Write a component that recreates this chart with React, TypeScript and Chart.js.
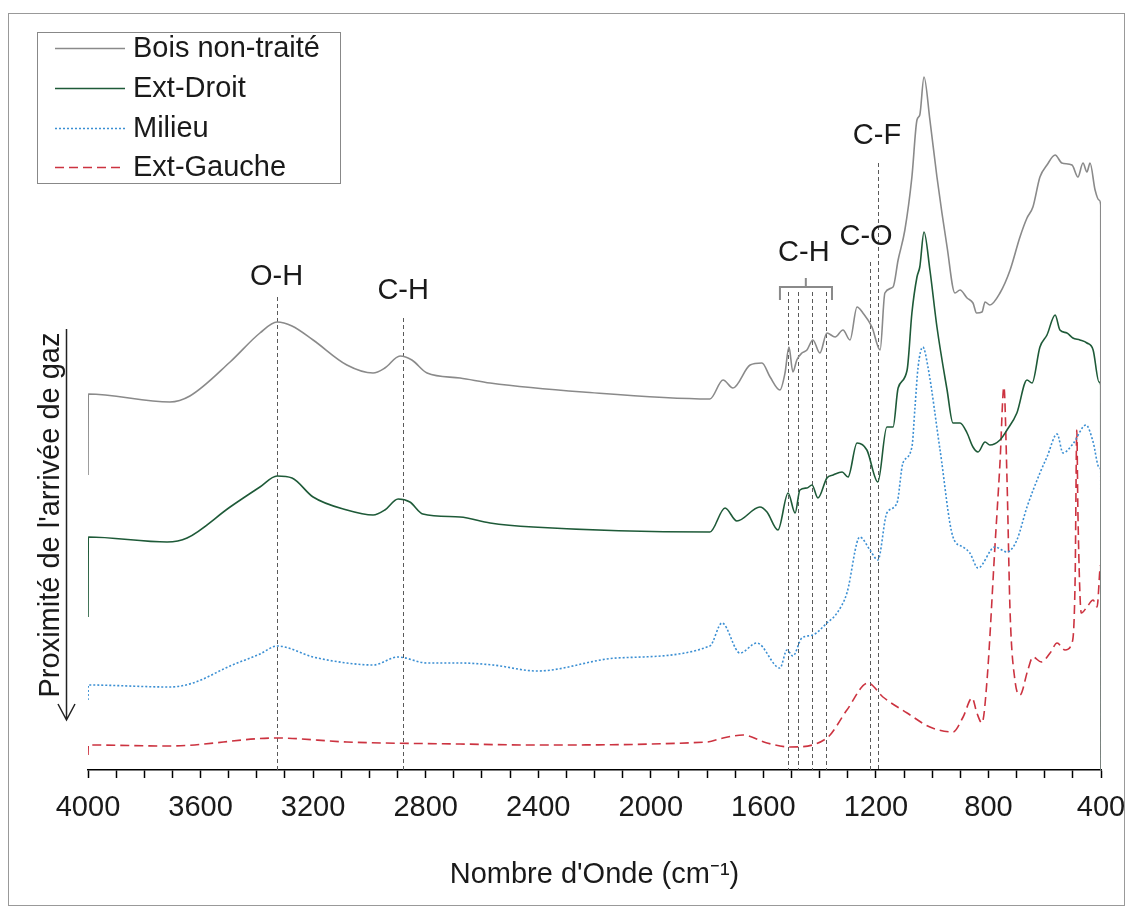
import React, { useEffect, useRef } from "react";
import { Chart, registerables } from "chart.js";

Chart.register(...registerables);

const FONT = "'Liberation Sans', Arial, sans-serif";
const FS = 29;

// Tick labels shown on the wavenumber axis (minor ticks every 100 cm-1)
const TICK_LABELS = ["4000", "3600", "3200", "2800", "2400", "2000", "1600", "1200", "800", "400"];

// Series: wavenumber (cm-1) and offset absorbance (arbitrary units)
const boisWave = [4000, 3999, 3709, 3638, 3495, 3389, 3328, 3275, 3200, 3080, 2987, 2945, 2891, 2849, 2795, 2678, 2571, 2241, 1790, 1743, 1708, 1647, 1605, 1576, 1541, 1523, 1509, 1495, 1481, 1463, 1445, 1424, 1399, 1374, 1345, 1317, 1292, 1267, 1246, 1214, 1185, 1168, 1139, 1121, 1097, 1072, 1054, 1044, 1029, 1008, 983, 947, 919, 901, 876, 855, 842, 823, 812, 795, 759, 723, 688, 663, 642, 617, 592, 563, 539, 503, 482, 464, 450, 439, 421, 407, 401, 400];
const boisAbs = [295, 376, 368, 374, 408, 437, 448, 444, 430, 405, 397, 402, 414, 410, 397, 392, 387, 378, 371, 390, 382, 405, 407, 393, 380, 397, 423, 398, 410, 417, 420, 430, 417, 437, 433, 440, 430, 463, 457, 443, 420, 477, 483, 510, 540, 593, 650, 655, 693, 650, 593, 523, 477, 480, 472, 467, 457, 458, 468, 465, 477, 500, 533, 552, 563, 593, 605, 615, 607, 605, 593, 607, 598, 607, 580, 570, 565, 0];

const droitWave = [4000, 3999, 3719, 3648, 3495, 3389, 3328, 3275, 3200, 3080, 2987, 2945, 2898, 2856, 2810, 2678, 2571, 2418, 1790, 1736, 1694, 1612, 1587, 1548, 1512, 1487, 1470, 1445, 1427, 1406, 1374, 1352, 1320, 1299, 1267, 1232, 1193, 1161, 1139, 1121, 1089, 1072, 1054, 1044, 1029, 1008, 983, 947, 926, 901, 876, 855, 837, 812, 795, 759, 734, 699, 663, 645, 617, 592, 563, 546, 521, 500, 475, 450, 428, 407, 401, 400];
const droitAbs = [153, 233, 228, 232, 263, 283, 294, 292, 273, 260, 255, 260, 271, 268, 256, 253, 247, 243, 238, 262, 249, 263, 258, 240, 277, 257, 280, 282, 285, 272, 292, 295, 298, 293, 327, 320, 288, 343, 343, 382, 400, 457, 493, 503, 538, 500, 443, 380, 347, 347, 337, 323, 318, 328, 325, 330, 340, 357, 390, 387, 423, 435, 455, 440, 437, 432, 430, 427, 420, 388, 385, 0];

const milieuWave = [4000, 3999, 3709, 3627, 3495, 3389, 3328, 3200, 3080, 2987, 2898, 2795, 2678, 2561, 2404, 2120, 1790, 1747, 1683, 1623, 1541, 1516, 1495, 1463, 1424, 1374, 1338, 1303, 1257, 1221, 1193, 1161, 1125, 1104, 1072, 1061, 1050, 1033, 1015, 972, 926, 890, 866, 837, 777, 734, 699, 663, 617, 592, 556, 535, 500, 453, 428, 407, 401, 400];
const milieuAbs = [70, 85, 83, 87, 104, 116, 124, 113, 107, 105, 113, 107, 107, 105, 99, 112, 124, 147, 117, 127, 102, 120, 114, 132, 135, 147, 157, 177, 233, 220, 210, 257, 267, 307, 323, 363, 403, 423, 403, 320, 233, 223, 217, 202, 223, 218, 230, 263, 297, 313, 336, 317, 326, 345, 328, 303, 300, 0];

const gaucheWave = [4000, 3999, 3709, 3328, 3080, 2678, 2418, 1800, 1743, 1672, 1587, 1505, 1374, 1303, 1228, 1175, 1089, 1008, 926, 890, 858, 841, 823, 805, 777, 759, 745, 734, 723, 706, 688, 660, 642, 612, 581, 556, 528, 503, 492, 486, 482, 470, 450, 428, 414, 403, 401, 400];
const gaucheAbs = [15, 25, 24, 32, 28, 26, 25, 28, 32, 35, 27, 23, 32, 60, 87, 73, 57, 43, 38, 53, 72, 57, 47, 90, 223, 307, 383, 290, 157, 90, 75, 100, 113, 108, 117, 127, 120, 127, 190, 340, 257, 157, 163, 170, 163, 203, 205, 0];

const seriesNames = ["Bois non-traité", "Ext-Droit", "Milieu", "Ext-Gauche"];
const seriesColors = ["#8a8a8a", "#1e5a38", "#3b8fd3", "#cc3340"];
const seriesDashes = [[], [], [2, 2], [9, 5]];

// Band annotations
const peakWaves = [3330, 2880, 1512, 1477, 1427, 1377, 1221, 1192];
const peakTops = [473, 452, 478, 478, 478, 478, 508, 607];
const bandLabels = ["O-H", "C-H", "C-H", "C-O", "C-F"];
const bandLabelWaves = [3330, 2880, 1456, 1235, 1196];
const bandLabelLevels = [493, 479, 517, 533, 634];
const bracketWaves = [1541, 1449, 1356];
const bracketLevels = [470, 483, 492];

const X_TITLE = "Nombre d'Onde (cm\u207B\u00B9)";
const Y_TITLE = "Proximité de l'arrivée de gaz";

function toPoints(w: number[], a: number[]) {
  return w.map((x, i) => ({ x, y: a[i] }));
}

const annotate = {
  id: "annotate",
  beforeDatasetsDraw(chart: any) {
    const { ctx, scales, chartArea } = chart;
    const x = scales.x;
    const y = scales.y;
    ctx.save();
    ctx.strokeStyle = "#5a5a5a";
    ctx.lineWidth = 1;
    ctx.setLineDash([4, 3]);
    peakWaves.forEach((w, i) => {
      const px = Math.round(x.getPixelForValue(w)) + 0.5;
      ctx.beginPath();
      ctx.moveTo(px, y.getPixelForValue(peakTops[i]));
      ctx.lineTo(px, chartArea.bottom);
      ctx.stroke();
    });
    ctx.setLineDash([]);
    // bracket
    ctx.strokeStyle = "#8a8a8a";
    ctx.lineWidth = 2;
    const l = x.getPixelForValue(bracketWaves[0]);
    const c = x.getPixelForValue(bracketWaves[1]);
    const r = x.getPixelForValue(bracketWaves[2]);
    const yb = y.getPixelForValue(bracketLevels[1]);
    const ye = y.getPixelForValue(bracketLevels[0]);
    const yc = y.getPixelForValue(bracketLevels[2]);
    ctx.beginPath();
    ctx.moveTo(l, ye);
    ctx.lineTo(l, yb);
    ctx.lineTo(r, yb);
    ctx.lineTo(r, ye);
    ctx.moveTo(c, yb);
    ctx.lineTo(c, yc);
    ctx.stroke();
    ctx.restore();
  },
  afterDraw(chart: any) {
    const { ctx, scales } = chart;
    const x = scales.x;
    const y = scales.y;
    ctx.save();
    // outer frame
    ctx.strokeStyle = "#999";
    ctx.lineWidth = 1;
    ctx.strokeRect(8.5, 13.5, 1116, 892);

    // band labels
    ctx.fillStyle = "#1a1a1a";
    ctx.font = `${FS}px ${FONT}`;
    ctx.textAlign = "center";
    ctx.textBaseline = "middle";
    bandLabels.forEach((t, i) => {
      ctx.fillText(t, x.getPixelForValue(bandLabelWaves[i]), y.getPixelForValue(bandLabelLevels[i]));
    });

    // y title with arrow
    ctx.save();
    ctx.translate(59, 515);
    ctx.rotate(-Math.PI / 2);
    ctx.textAlign = "center";
    ctx.textBaseline = "alphabetic";
    ctx.fillText(Y_TITLE, 0, 0);
    ctx.restore();
    ctx.strokeStyle = "#222";
    ctx.lineWidth = 1.5;
    ctx.beginPath();
    ctx.moveTo(66.5, 329);
    ctx.lineTo(66.5, 720);
    ctx.moveTo(58, 704);
    ctx.lineTo(66.5, 720);
    ctx.lineTo(75, 704);
    ctx.stroke();

    // legend
    ctx.fillStyle = "#fff";
    ctx.fillRect(37.5, 32.5, 303, 151);
    ctx.strokeStyle = "#888";
    ctx.lineWidth = 1;
    ctx.strokeRect(37.5, 32.5, 303, 151);
    const rows = [48, 88, 128, 167];
    chart.data.datasets.forEach((ds: any, i: number) => {
      ctx.strokeStyle = ds.borderColor;
      ctx.lineWidth = ds.borderWidth;
      ctx.setLineDash(ds.borderDash || []);
      ctx.beginPath();
      ctx.moveTo(55, rows[i] + 0.5);
      ctx.lineTo(125, rows[i] + 0.5);
      ctx.stroke();
      ctx.setLineDash([]);
      ctx.fillStyle = "#1a1a1a";
      ctx.textAlign = "left";
      ctx.textBaseline = "middle";
      ctx.fillText(ds.label, 133, rows[i] + 1);
    });
    ctx.restore();
  },
};

export default function App() {
  const ref = useRef<HTMLCanvasElement | null>(null);

  useEffect(() => {
    if (!ref.current) return;
    const data = [
      toPoints(boisWave, boisAbs),
      toPoints(droitWave, droitAbs),
      toPoints(milieuWave, milieuAbs),
      toPoints(gaucheWave, gaucheAbs),
    ];
    const chart = new Chart(ref.current, {
      type: "line",
      data: {
        datasets: data.map((d, i) => ({
          label: seriesNames[i],
          data: d,
          borderColor: seriesColors[i],
          backgroundColor: seriesColors[i],
          borderWidth: 1.6,
          borderDash: seriesDashes[i],
          pointRadius: 0,
          cubicInterpolationMode: "monotone",
          fill: false,
        })),
      },
      options: {
        responsive: false,
        animation: false,
        devicePixelRatio: 1,
        layout: { padding: { left: 88, right: 32, top: 40, bottom: 0 } },
        plugins: { legend: { display: false }, tooltip: { enabled: false } },
        scales: {
          x: {
            type: "linear",
            reverse: true,
            min: 400,
            max: 4000,
            afterFit: (s: any) => {
              s.height = 145;
              s.paddingLeft = 0;
              s.paddingRight = 0;
            },
            ticks: {
              stepSize: 100,
              autoSkip: false,
              maxRotation: 0,
              minRotation: 0,
              padding: 13,
              color: "#1a1a1a",
              font: { family: FONT, size: FS },
              callback: (v: any) => (TICK_LABELS.includes(String(v)) ? String(v) : ""),
            },
            grid: {
              drawOnChartArea: false,
              drawTicks: true,
              tickLength: 8,
              tickColor: "#000",
              tickWidth: 1.5,
            },
            border: { display: true, color: "#000", width: 1.5 },
            title: {
              display: true,
              text: X_TITLE,
              color: "#1a1a1a",
              font: { family: FONT, size: FS },
              padding: { top: 0, bottom: 23 },
            },
          },
          y: { display: false, min: 0, max: 730 },
        },
      },
      plugins: [annotate],
    } as any);
    return () => chart.destroy();
  }, []);

  return (
    <div style={{ position: "absolute", left: 0, top: 0, width: 1133, height: 915, background: "#fff" }}>
      <canvas ref={ref} width={1133} height={915} style={{ display: "block" }} />
    </div>
  );
}
